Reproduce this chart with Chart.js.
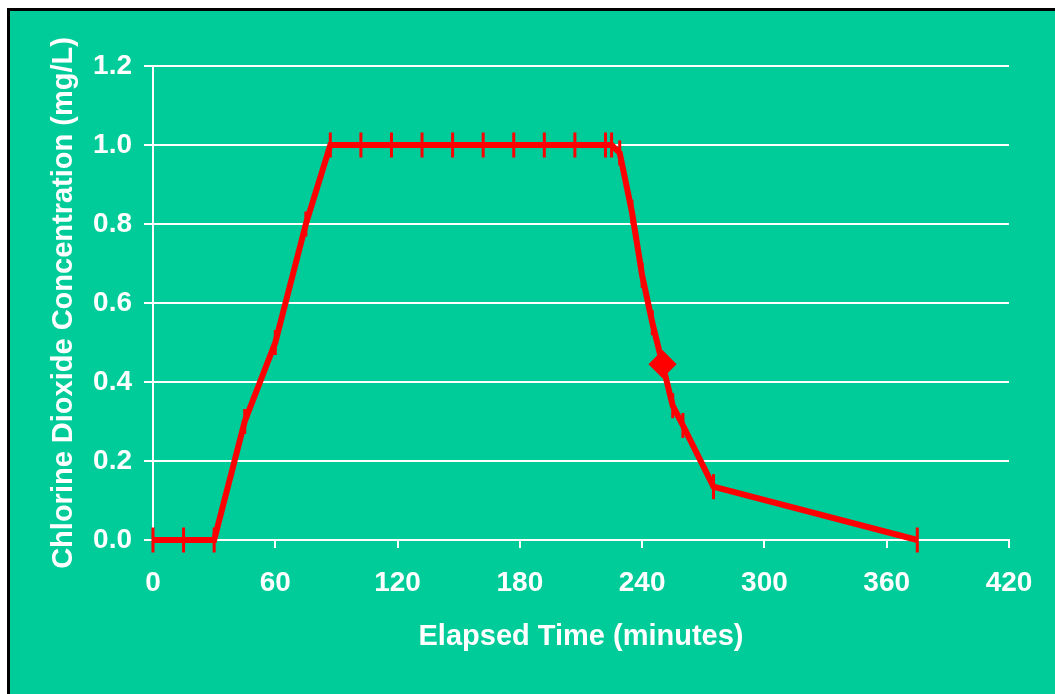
<!DOCTYPE html>
<html>
<head>
<meta charset="utf-8">
<script src="https://cdn.jsdelivr.net/npm/chart.js@4/dist/chart.umd.min.js"></script>
<style>
  html, body { margin: 0; padding: 0; background: #fff; overflow: hidden; }
  #frame {
    position: absolute; left: 7px; top: 8px;
    width: 1048px; height: 686px;
    border-left: 3px solid #000; border-top: 3px solid #000;
    background: #00CC99;
  }
  #chart { position: absolute; left: 0; top: 0; }
</style>
</head>
<body>
<div id="frame">
  <canvas id="chart" width="1045" height="683"></canvas>
</div>
<script>
// elapsed time (minutes) and chlorine dioxide concentration (mg/L)
var times = [0, 15, 30, 45, 60, 75, 87, 102, 117, 132, 147, 162, 177, 192, 207, 222, 225, 229, 235, 240, 245, 250, 255, 260, 275, 375];
var conc  = [0, 0, 0, 0.30, 0.50, 0.80, 1.0, 1.0, 1.0, 1.0, 1.0, 1.0, 1.0, 1.0, 1.0, 1.0, 1.0, 0.98, 0.83, 0.67, 0.55, 0.445, 0.34, 0.29, 0.135, 0];
// the one reading drawn as a diamond
var diamondAt = 250;

var xTicks = [0, 60, 120, 180, 240, 300, 360, 420];
var yTicks = [0, 0.2, 0.4, 0.6, 0.8, 1.0, 1.2];

window.onload = function () {
  var points = times.map((t, i) => ({ x: t, y: conc[i] }));
  var styles = times.map((t) => t === diamondAt ? 'rectRot' : 'line');
  var rotations = times.map((t) => t === diamondAt ? 0 : 90);
  var radii = times.map((t) => t === diamondAt ? 12 : 12.5);

  var family = '"Liberation Sans", Arial, sans-serif';
  var tickFont = { family: family, size: 28, weight: 'bold' };
  var titleFont = { family: family, size: 29, weight: 'bold' };

  var config = {
    type: 'scatter',
    data: {
      datasets: [
        {
          data: points,
          showLine: true,
          clip: false,
          borderColor: '#FF0000',
          backgroundColor: '#FF0000',
          borderWidth: 6,
          tension: 0,
          pointStyle: styles,
          pointRotation: rotations,
          pointRadius: radii,
          pointHoverRadius: radii,
          pointBorderColor: '#FF0000',
          pointBackgroundColor: '#FF0000',
          pointBorderWidth: 3
        }
      ]
    },
    options: {
      responsive: false,
      animation: false,
      events: [],
      layout: { padding: { left: 0, top: 55, right: 46, bottom: 0 } },
      plugins: { legend: { display: false }, tooltip: { enabled: false } },
      scales: {
        x: {
          type: 'linear',
          min: 0,
          max: 420,
          afterBuildTicks: (scale) => { scale.ticks = xTicks.map((v) => ({ value: v })); },
          afterFit: (scale) => { scale.height = 154; },
          grid: { drawOnChartArea: false, color: '#fff', lineWidth: 2, tickLength: 8 },
          border: { color: '#fff', width: 2 },
          ticks: { color: '#fff', font: tickFont, padding: 18, maxRotation: 0 },
          title: {
            display: true,
            text: 'Elapsed Time (minutes)',
            color: '#fff',
            font: titleFont,
            padding: { top: 0, bottom: 40 }
          }
        },
        y: {
          min: 0,
          max: 1.2,
          afterBuildTicks: (scale) => { scale.ticks = yTicks.map((v) => ({ value: v })); },
          afterFit: (scale) => { scale.width = 143; },
          grid: { color: '#fff', lineWidth: 2, tickLength: 9 },
          border: { color: '#fff', width: 2 },
          ticks: {
            color: '#fff',
            font: tickFont,
            padding: 12,
            callback: (v) => Number(v).toFixed(1)
          },
          title: {
            display: true,
            text: 'Chlorine Dioxide Concentration (mg/L)',
            color: '#fff',
            font: titleFont,
            padding: { top: 37, bottom: 0 }
          }
        }
      }
    }
  };

  var ctx = document.getElementById('chart').getContext('2d');
  window.myChart = new Chart(ctx, config);
};
</script>
</body>
</html>
